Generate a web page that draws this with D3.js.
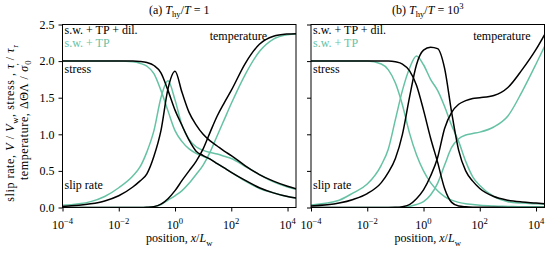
<!DOCTYPE html>
<html><head><meta charset="utf-8">
<script src="https://cdn.jsdelivr.net/npm/d3@7"></script>
<style>
html,body{margin:0;padding:0;background:#fff;}
text{font-family:"Liberation Serif","Times New Roman",serif;}
</style></head>
<body><svg id="chart" width="551" height="255"></svg>
<script>
// ---------------- DATA ----------------
const position = [1e-4, 1e-3, 3.16e-3, 1e-2, 3.16e-2, 5.62e-2, 0.1, 0.178, 0.316, 0.562, 1, 1.78, 3.16, 5.62, 10, 17.8, 31.6, 56.2, 100, 316, 1000, 3162, 10000, 20000];

// panel (a) Thy/T = 1
const slipA_dil   = [0.015,0.05,0.09,0.16,0.28,0.36,0.46,0.70,1.05,1.62,1.86,1.57,1.30,1.13,1.00,0.91,0.84,0.77,0.71,0.57,0.45,0.36,0.29,0.255];
const stressA_dil = [2.0,2.0,2.0,2.0,2.0,1.995,1.98,1.94,1.84,1.60,1.33,1.12,0.92,0.77,0.71,0.66,0.60,0.54,0.48,0.37,0.27,0.20,0.15,0.13];
const tempA_dil   = [0,0,0,0,0,0,0.003,0.012,0.045,0.12,0.23,0.37,0.50,0.63,0.80,1.03,1.25,1.43,1.60,1.97,2.23,2.34,2.37,2.375];
const slipA_tp    = [0.03,0.08,0.15,0.27,0.43,0.55,0.76,1.05,1.50,1.73,1.47,1.12,0.93,0.83,0.78,0.75,0.73,0.70,0.67,0.56,0.45,0.35,0.28,0.25];
const stressA_tp  = [2.0,2.0,2.0,2.0,1.99,1.97,1.93,1.83,1.60,1.32,1.05,0.90,0.80,0.74,0.70,0.66,0.60,0.54,0.48,0.36,0.26,0.20,0.15,0.13];
const tempA_tp    = [0,0,0,0,0,0,0.003,0.012,0.04,0.10,0.16,0.23,0.33,0.45,0.58,0.76,0.98,1.20,1.42,1.82,2.13,2.30,2.36,2.37];

// panel (b) Thy/T = 10^3
const slipB_dil   = [0.02,0.06,0.11,0.19,0.34,0.48,0.67,1.00,1.50,1.95,2.15,2.19,2.17,1.90,1.30,0.78,0.50,0.36,0.26,0.15,0.10,0.075,0.06,0.05];
const stressB_dil = [2.0,2.0,2.0,2.0,2.0,2.0,1.99,1.96,1.87,1.67,1.33,0.95,0.62,0.26,0.07,0.02,0.01,0.005,0.003,0.002,0.001,0,0,0];
const tempB_dil   = [0,0,0,0,0,0,0.002,0.012,0.04,0.12,0.24,0.43,0.68,1.08,1.30,1.41,1.46,1.49,1.50,1.53,1.64,1.88,2.16,2.36];
const slipB_tp    = [0.035,0.10,0.20,0.32,0.58,0.80,1.20,1.60,1.90,2.07,1.95,1.75,1.60,1.38,1.12,0.90,0.63,0.42,0.30,0.15,0.08,0.06,0.05,0.045];
const stressB_tp  = [2.0,2.0,2.0,2.0,1.96,1.88,1.70,1.40,1.02,0.72,0.50,0.34,0.23,0.15,0.10,0.07,0.05,0.04,0.03,0.02,0.015,0.01,0.01,0.01];
const tempB_tp    = [0,0,0,0,0,0,0.001,0.005,0.015,0.04,0.08,0.17,0.33,0.58,0.82,0.94,0.99,1.01,1.03,1.10,1.25,1.58,1.96,2.20];

const xTicks = [1e-4, 1e-2, 1, 1e2, 1e4];
const xTickExp = ["\u22124", "\u22122", "0", "2", "4"];
const yTicks = [0, 0.5, 1.0, 1.5, 2.0, 2.5];

const seriesNames = ["s.w. + TP + dil.", "s.w. + TP"];
const colors = ["#000000", "#66c2a5"];

// ---------------- DRAW ----------------
const svg = d3.select("#chart");
const FS = 12;
const yTop = 24.5, yBot = 207.5;
const y = d3.scaleLinear().domain([0, 2.5]).range([yBot, yTop]);

function mtext(sel, parts, size) {
  let shift = 0;
  parts.forEach(p => {
    let target = p.sub ? 3.5 : (p.sup ? -5 : 0);
    const ts = sel.append("tspan").text(p.t);
    if (target !== shift) ts.attr("dy", target - shift);
    shift = target;
    if (p.i) ts.attr("font-style", "italic");
    if (p.sub || p.sup) ts.attr("font-size", size * 0.72);
    if (p.dx) ts.attr("dx", p.dx);
  });
}

const panels = [
  {x0: 62.5, x1: 296, labels: true,
   title: [{t:"(a) "},{t:"T",i:true},{t:"hy",sub:true},{t:"/"},{t:"T",i:true},{t:" = 1"}],
   dil: [slipA_dil, stressA_dil, tempA_dil], tp: [slipA_tp, stressA_tp, tempA_tp]},
  {x0: 311, x1: 544.5, labels: false,
   title: [{t:"(b) "},{t:"T",i:true},{t:"hy",sub:true},{t:"/"},{t:"T",i:true},{t:" = 10"},{t:"3",sup:true}],
   dil: [slipB_dil, stressB_dil, tempB_dil], tp: [slipB_tp, stressB_tp, tempB_tp]}
];

panels.forEach(P => {
  const x = d3.scaleLog().domain([1e-4, 2e4]).range([P.x0, P.x1]);
  const g = svg.append("g");
  const clipId = "clip" + Math.round(P.x0);
  svg.append("clipPath").attr("id", clipId).append("rect")
    .attr("x", P.x0).attr("y", yTop).attr("width", P.x1 - P.x0).attr("height", yBot - yTop);

  const line = d3.line().x((d, i) => x(position[i])).y(d => y(d)).curve(d3.curveMonotoneX);
  const cg = g.append("g").attr("clip-path", `url(#${clipId})`);
  [P.tp, P.dil].forEach((set, k) => {
    const col = k === 0 ? colors[1] : colors[0];
    set.forEach(arr => {
      cg.append("path").attr("d", line(arr)).attr("fill", "none")
        .attr("stroke", col).attr("stroke-width", 1.5);
    });
  });

  // frame
  g.append("rect").attr("x", P.x0).attr("y", yTop).attr("width", P.x1 - P.x0).attr("height", yBot - yTop)
    .attr("fill", "none").attr("stroke", "#000").attr("stroke-width", 1);

  // x axis
  const xa = g.append("g").attr("transform", `translate(0,${yBot})`)
    .call(d3.axisBottom(x).tickValues(xTicks).tickSize(4).tickFormat(""));
  xa.select(".domain").remove();
  xa.selectAll("line").attr("stroke", "#000").attr("stroke-width", 1);
  xTicks.forEach((t, i) => {
    const tx = g.append("text").attr("x", x(t)).attr("y", 229).attr("text-anchor", "middle")
      .attr("font-size", FS).attr("fill", "#000");
    mtext(tx, [{t:"10"},{t:xTickExp[i], sup:true}], FS);
  });

  // y axis
  const ya = g.append("g").attr("transform", `translate(${P.x0},0)`)
    .call(d3.axisLeft(y).tickValues(yTicks).tickSize(4).tickPadding(4)
      .tickFormat(P.labels ? d3.format(".1f") : ""));
  ya.select(".domain").remove();
  ya.selectAll("line").attr("stroke", "#000").attr("stroke-width", 1);
  ya.selectAll("text").attr("font-size", FS).attr("font-family", '"Liberation Serif",serif').attr("fill", "#000");

  // title
  const tt = g.append("text").attr("x", (P.x0 + P.x1) / 2).attr("y", 13.5)
    .attr("text-anchor", "middle").attr("font-size", FS);
  mtext(tt, P.title, FS);

  // x label
  const xl = g.append("text").attr("x", (P.x0 + P.x1) / 2).attr("y", 242)
    .attr("text-anchor", "middle").attr("font-size", FS);
  mtext(xl, [{t:"position, "},{t:"x",i:true},{t:"/"},{t:"L",i:true},{t:"w",sub:true}], FS);

  // in-plot labels
  const lx = P.x0 + 2;
  g.append("text").attr("x", lx).attr("y", 34).attr("font-size", FS).text(seriesNames[0]);
  g.append("text").attr("x", lx).attr("y", 47).attr("font-size", FS).attr("fill", colors[1]).text(seriesNames[1]);
  g.append("text").attr("x", lx).attr("y", 73).attr("font-size", FS).text("stress");
  g.append("text").attr("x", lx).attr("y", 188.5).attr("font-size", FS).text("slip rate");
  g.append("text").attr("x", P.x1 - (P.labels ? 29 : 14)).attr("y", 39.5).attr("text-anchor", "end")
    .attr("font-size", FS).text("temperature");
});

// y label (two lines)
const yl1 = svg.append("text").attr("transform", "translate(14,123) rotate(-90)")
  .attr("text-anchor", "middle").attr("font-size", FS).attr("letter-spacing", 0.6);
mtext(yl1, [{t:"slip rate, "},{t:"V",i:true},{t:" / "},{t:"V",i:true},{t:"w",sub:true},
  {t:", stress , "},{t:"\u03c4",i:true},{t:" / "},{t:"\u03c4",i:true},{t:"r",sub:true}], FS);
const yl2 = svg.append("text").attr("transform", "translate(27.5,120) rotate(-90)")
  .attr("text-anchor", "middle").attr("font-size", FS).attr("letter-spacing", 0.6);
mtext(yl2, [{t:"temperature, \u0394\u0398\u039b / "},{t:"\u03c3",i:true},{t:"\u2032",sup:true},{t:"0",sub:true,dx:-2}], FS);
</script></body></html>
